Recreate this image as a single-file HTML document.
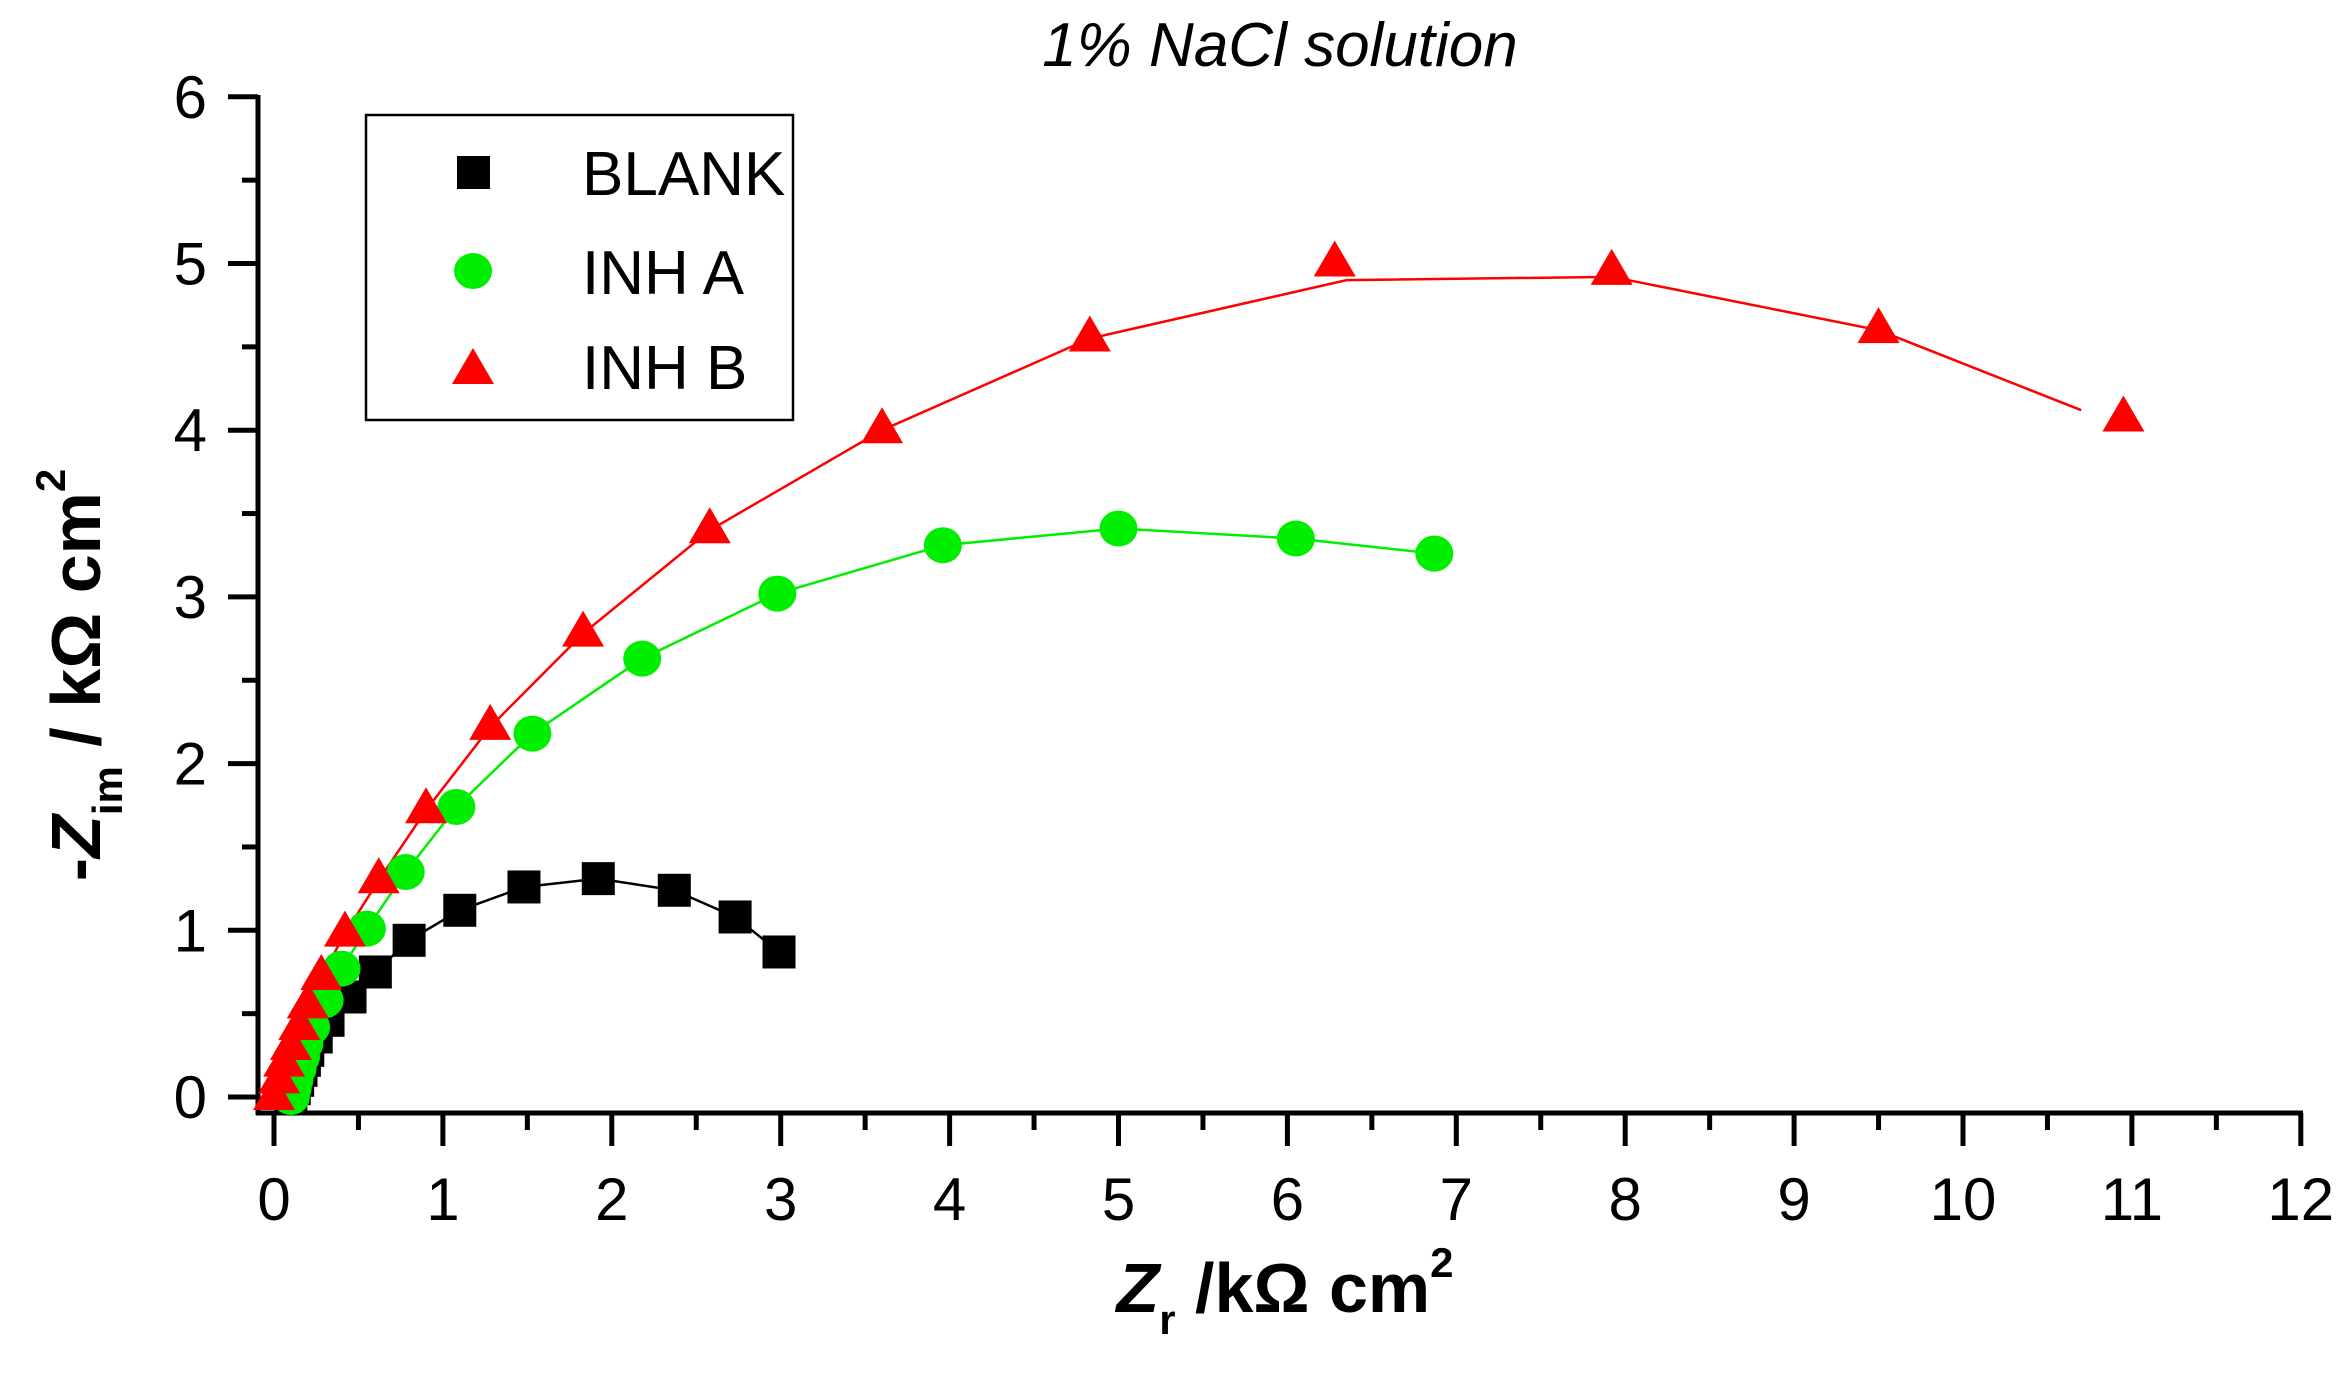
<!DOCTYPE html>
<html><head><meta charset="utf-8"><style>
html,body{margin:0;padding:0;background:#fff;}
svg{display:block;font-family:"Liberation Sans",sans-serif;}
</style></head><body>
<svg id="s" width="2350" height="1400" viewBox="0 0 2350 1400" xmlns="http://www.w3.org/2000/svg">
<rect width="2350" height="1400" fill="#fff"/>
<text x="1280" y="66" font-size="62" font-style="italic" text-anchor="middle" fill="#000">1% NaCl solution</text>
<g id="axes" stroke="#000" stroke-width="5" fill="none">
<line x1="258" y1="95" x2="258" y2="1115"/>
<line x1="256" y1="1113" x2="2303" y2="1113"/>
</g>
<g id="ticks" stroke="#000" stroke-width="5"></g>
<g id="labels" font-size="60" fill="#000"></g>
<g id="data"></g>
<rect x="366" y="115" width="427" height="305" fill="#fff" stroke="#000" stroke-width="2.5"/>
<rect x="457" y="156" width="33" height="33" fill="#000"/>
<ellipse cx="473" cy="271" rx="19" ry="18" fill="#00ee00"/>
<polygon points="452,384 494,384 473,348" fill="#ff0000"/>
<text x="582" y="195" font-size="62" fill="#000">BLANK</text>
<text x="582" y="294" font-size="62" fill="#000">INH A</text>
<text x="582" y="389" font-size="62" fill="#000">INH B</text>
<text x="1285" y="1312" font-size="70" font-weight="bold" text-anchor="middle" fill="#000"><tspan font-style="italic">Z</tspan><tspan font-size="42" dy="22">r</tspan><tspan dy="-22"> /kΩ cm</tspan><tspan font-size="42" dy="-35">2</tspan></text>
<text transform="translate(100,675) rotate(-90)" font-size="70" font-weight="bold" text-anchor="middle" fill="#000">-<tspan font-style="italic">Z</tspan><tspan font-size="42" dy="22">im</tspan><tspan dy="-22"> / kΩ cm</tspan><tspan font-size="42" dy="-35">2</tspan></text>
</svg>
<script>
const NS="http://www.w3.org/2000/svg";
const X=v=>274+v*168.9, Y=v=>1097-v*166.7;
function el(p,t,a){const e=document.createElementNS(NS,t);for(const k in a)e.setAttribute(k,a[k]);p.appendChild(e);return e;}
const tk=document.getElementById('ticks'),lb=document.getElementById('labels'),dg=document.getElementById('data');
for(let i=0;i<=12;i++){el(tk,'line',{x1:228,x2:258,y1:Y(i/2),y2:Y(i/2)});if(i%2==1)tk.lastChild.setAttribute('x1',242);}
for(let i=0;i<=6;i++){const t=el(lb,'text',{x:207,y:Y(i)+21,'text-anchor':'end'});t.textContent=i;}
for(let i=0;i<=24;i++){const x=X(i/2);el(tk,'line',{x1:x,x2:x,y1:1113,y2:i%2?1130:1146});}
for(let i=0;i<=12;i++){const t=el(lb,'text',{x:X(i),y:1220,'text-anchor':'middle'});t.textContent=i;}
const B=[[0.1,0],[0.12,0.05],[0.14,0.1],[0.16,0.16],[0.18,0.22],[0.2,0.28],[0.25,0.36],[0.32,0.46],[0.45,0.6],[0.6,0.75],[0.8,0.94],[1.1,1.12],[1.48,1.26],[1.92,1.31],[2.37,1.24],[2.73,1.08],[2.99,0.87]];
const A=[[0.1,0],[0.11,0.05],[0.12,0.1],[0.14,0.17],[0.16,0.24],[0.18,0.32],[0.22,0.42],[0.3,0.58],[0.4,0.77],[0.55,1.01],[0.78,1.35],[1.08,1.74],[1.53,2.18],[2.18,2.63],[2.98,3.02],[3.96,3.31],[5.0,3.41],[6.05,3.35],[6.87,3.26]];
const R=[[0.0,0.0],[0.03,0.1],[0.06,0.2],[0.1,0.3],[0.15,0.42],[0.2,0.55],[0.28,0.72],[0.42,0.98],[0.62,1.3],[0.9,1.72],[1.28,2.22],[1.83,2.78],[2.58,3.4],[3.6,4.0],[4.83,4.55],[6.35,4.9],[7.92,4.92],[9.5,4.6],[10.7,4.12]];
const Rm=[[0.0,0.0],[0.03,0.1],[0.06,0.2],[0.1,0.3],[0.15,0.42],[0.2,0.55],[0.28,0.72],[0.42,0.98],[0.62,1.3],[0.9,1.72],[1.28,2.22],[1.83,2.78],[2.58,3.4],[3.6,4.0],[4.83,4.55],[6.28,5.0],[7.92,4.95],[9.5,4.6],[10.95,4.07]];
function line(d,c){el(dg,'polyline',{points:d.map(p=>X(p[0])+','+Y(p[1])).join(' '),fill:'none',stroke:c,'stroke-width':2.5});}
line(B,'#000');line(A,'#00ee00');line(R,'#ff0000');
B.forEach(p=>el(dg,'rect',{x:X(p[0])-16.5,y:Y(p[1])-16.5,width:33,height:33,fill:'#000'}));
A.forEach(p=>el(dg,'ellipse',{cx:X(p[0]),cy:Y(p[1]),rx:19,ry:18,fill:'#00ee00'}));
Rm.forEach(p=>{const x=X(p[0]),y=Y(p[1]);el(dg,'polygon',{points:`${x-21},${y+13} ${x+21},${y+13} ${x},${y-23}`,fill:'#ff0000'});});
</script>
</body></html>
